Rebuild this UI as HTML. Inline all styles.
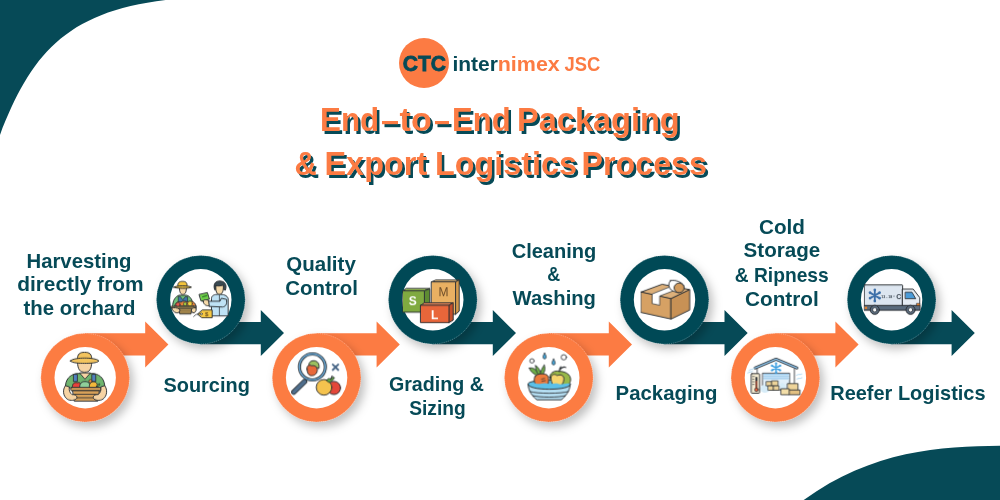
<!DOCTYPE html>
<html><head><meta charset="utf-8"><style>
html,body{margin:0;padding:0;background:#fff;}
body{width:1000px;height:500px;overflow:hidden;position:relative;}
svg{position:absolute;left:0;top:0;will-change:transform;}
text{font-family:"Liberation Sans",sans-serif;font-weight:bold;}
.lb text{font-size:20.5px;fill:#064a57;}
.tt text{font-size:32.3px;}
</style></head><body>
<svg width="1000" height="500" viewBox="0 0 1000 500">
<defs>
<filter id="sh" x="-30%" y="-30%" width="160%" height="160%">
<feDropShadow dx="4" dy="5" stdDeviation="5" flood-color="#000" flood-opacity="0.25"/>
</filter>
</defs>
<path d="M0 0 H165.6 C64.1 12 30.2 56.8 0 135.1 Z" fill="#064a57"/>
<path d="M803.7 500 C872.4 449.9 941.3 446.3 1000 445.7 V500 Z" fill="#064a57"/>
<circle cx="424" cy="63" r="25" fill="#fc7b43"/>
<g fill="#064a57" stroke="#064a57" stroke-width="0.8" style="font-size:21.5px"><text x="402.80" y="71.2" textLength="43.22" lengthAdjust="spacingAndGlyphs">CTC</text></g>
<g style="font-size:20.5px"><g fill="#064a57"><text x="452.48" y="71.4" textLength="45.50" lengthAdjust="spacingAndGlyphs">inter</text></g><g fill="#fc7b43"><text x="497.75" y="71.4" textLength="62.02" lengthAdjust="spacingAndGlyphs">nimex</text><text x="564.40" y="71.4" textLength="35.82" lengthAdjust="spacingAndGlyphs">JSC</text></g></g>
<g class="tt">
<g fill="#064a57" transform="translate(2.5,3)"><text x="320.06" y="130.7" textLength="59.11" lengthAdjust="spacingAndGlyphs">End</text><text x="399.50" y="130.7" textLength="32.27" lengthAdjust="spacingAndGlyphs">to</text><text x="452.08" y="130.7" textLength="58.58" lengthAdjust="spacingAndGlyphs">End</text><text x="516.99" y="130.7" textLength="162.76" lengthAdjust="spacingAndGlyphs">Packaging</text><text x="294.55" y="175" textLength="22.26" lengthAdjust="spacingAndGlyphs">&amp;</text><text x="324.49" y="175" textLength="102.76" lengthAdjust="spacingAndGlyphs">Export</text><text x="435.00" y="175" textLength="141.97" lengthAdjust="spacingAndGlyphs">Logistics</text><text x="581.50" y="175" textLength="125.46" lengthAdjust="spacingAndGlyphs">Process</text><rect x="382" y="121" width="16" height="3.2"/><rect x="435" y="121" width="14" height="3.2"/></g>
<g fill="#fc7b43"><text x="320.06" y="130.7" textLength="59.11" lengthAdjust="spacingAndGlyphs">End</text><text x="399.50" y="130.7" textLength="32.27" lengthAdjust="spacingAndGlyphs">to</text><text x="452.08" y="130.7" textLength="58.58" lengthAdjust="spacingAndGlyphs">End</text><text x="516.99" y="130.7" textLength="162.76" lengthAdjust="spacingAndGlyphs">Packaging</text><text x="294.55" y="175" textLength="22.26" lengthAdjust="spacingAndGlyphs">&amp;</text><text x="324.49" y="175" textLength="102.76" lengthAdjust="spacingAndGlyphs">Export</text><text x="435.00" y="175" textLength="141.97" lengthAdjust="spacingAndGlyphs">Logistics</text><text x="581.50" y="175" textLength="125.46" lengthAdjust="spacingAndGlyphs">Process</text><rect x="382" y="121" width="16" height="3.2"/><rect x="435" y="121" width="14" height="3.2"/></g>
</g>
<path d="M85.2 333.3 H145.2 V321.4 L168.4 344.4 L145.2 367.4 V355.6 H85.2 Z" fill="#fc7b43"/>
<circle cx="85.2" cy="377.7" r="44.4" fill="#fc7b43" filter="url(#sh)"/><circle cx="85.2" cy="377.7" r="44.199999999999996" fill="none" stroke="#fff" stroke-opacity="0.5" stroke-width="0.6" stroke-dasharray="1.2 1"/><circle cx="85.2" cy="377.7" r="30.7" fill="#fff"/>
<path d="M316.6 333.3 H376.6 V321.4 L399.8 344.4 L376.6 367.4 V355.6 H316.6 Z" fill="#fc7b43"/>
<circle cx="316.6" cy="377.7" r="44.4" fill="#fc7b43" filter="url(#sh)"/><circle cx="316.6" cy="377.7" r="44.199999999999996" fill="none" stroke="#fff" stroke-opacity="0.5" stroke-width="0.6" stroke-dasharray="1.2 1"/><circle cx="316.6" cy="377.7" r="30.7" fill="#fff"/>
<path d="M548.8 333.3 H608.8 V321.4 L632.0 344.4 L608.8 367.4 V355.6 H548.8 Z" fill="#fc7b43"/>
<circle cx="548.8" cy="377.7" r="44.4" fill="#fc7b43" filter="url(#sh)"/><circle cx="548.8" cy="377.7" r="44.199999999999996" fill="none" stroke="#fff" stroke-opacity="0.5" stroke-width="0.6" stroke-dasharray="1.2 1"/><circle cx="548.8" cy="377.7" r="30.7" fill="#fff"/>
<path d="M775.4 333.3 H835.4 V321.4 L858.6 344.4 L835.4 367.4 V355.6 H775.4 Z" fill="#fc7b43"/>
<circle cx="775.4" cy="377.7" r="44.4" fill="#fc7b43" filter="url(#sh)"/><circle cx="775.4" cy="377.7" r="44.199999999999996" fill="none" stroke="#fff" stroke-opacity="0.5" stroke-width="0.6" stroke-dasharray="1.2 1"/><circle cx="775.4" cy="377.7" r="30.7" fill="#fff"/>
<path d="M200.8 321.9 H260.8 V310.1 L284.0 333.1 L260.8 356.1 V344.2 H200.8 Z" fill="#064a57"/>
<circle cx="200.8" cy="299.8" r="44.4" fill="#064a57" filter="url(#sh)"/><circle cx="200.8" cy="299.8" r="44.199999999999996" fill="none" stroke="#fff" stroke-opacity="0.5" stroke-width="0.6" stroke-dasharray="1.2 1"/><circle cx="200.8" cy="299.8" r="30.7" fill="#fff"/>
<path d="M432.8 321.9 H492.8 V310.1 L516.0 333.1 L492.8 356.1 V344.2 H432.8 Z" fill="#064a57"/>
<circle cx="432.8" cy="299.8" r="44.4" fill="#064a57" filter="url(#sh)"/><circle cx="432.8" cy="299.8" r="44.199999999999996" fill="none" stroke="#fff" stroke-opacity="0.5" stroke-width="0.6" stroke-dasharray="1.2 1"/><circle cx="432.8" cy="299.8" r="30.7" fill="#fff"/>
<path d="M664.5 321.9 H724.5 V310.1 L747.7 333.1 L724.5 356.1 V344.2 H664.5 Z" fill="#064a57"/>
<circle cx="664.5" cy="299.8" r="44.4" fill="#064a57" filter="url(#sh)"/><circle cx="664.5" cy="299.8" r="44.199999999999996" fill="none" stroke="#fff" stroke-opacity="0.5" stroke-width="0.6" stroke-dasharray="1.2 1"/><circle cx="664.5" cy="299.8" r="30.7" fill="#fff"/>
<path d="M891.6 321.9 H951.6 V310.1 L974.8 333.1 L951.6 356.1 V344.2 H891.6 Z" fill="#064a57"/>
<circle cx="891.6" cy="299.8" r="44.4" fill="#064a57" filter="url(#sh)"/><circle cx="891.6" cy="299.8" r="44.199999999999996" fill="none" stroke="#fff" stroke-opacity="0.5" stroke-width="0.6" stroke-dasharray="1.2 1"/><circle cx="891.6" cy="299.8" r="30.7" fill="#fff"/>
<g stroke="#2b2f33" stroke-width="8" stroke-linejoin="round" stroke-linecap="round">
<!-- 1 farmer -->
<svg x="55.2" y="347.7" width="60" height="60" viewBox="0 0 500 500" overflow="visible">
 <path d="M84 330 C86 262 120 228 175 215 L325 215 C380 228 412 262 414 330 Z" fill="#6fb46e"/>
 <rect x="155" y="222" width="30" height="60" fill="#4f7fc0" stroke-width="7"/>
 <rect x="308" y="222" width="30" height="60" fill="#4f7fc0" stroke-width="7"/>
 <path d="M205 212 L248 262 L292 212 Z" fill="#f6d3a3" stroke-width="7"/>
 <path d="M186 118 C186 182 208 204 246 204 C284 204 304 182 304 118 Z" fill="#f6d3a3"/>
 <path d="M186 94 C184 52 205 38 245 38 C285 38 306 52 304 94 Z" fill="#f3c45e"/>
 <path d="M126 110 C140 92 200 86 245 86 C290 86 350 92 364 110 C350 128 290 130 245 130 C200 130 140 128 126 110 Z" fill="#f3c45e"/>
 <circle cx="294" cy="279" r="14" fill="#f08a3a" stroke-width="6"/>
 <path d="M145 331 C138 300 160 286 185 292 C210 284 222 305 214 331 Z" fill="#e8413a"/>
 <path d="M205 334 C198 300 222 280 248 282 C278 280 296 300 290 334 Z" fill="#8fcf9a"/>
 <path d="M285 331 C280 300 298 283 320 284 C345 284 356 302 350 331 Z" fill="#f3b83a"/>
 <path d="M345 322 C350 305 365 298 372 300 C372 315 360 325 345 322 Z" fill="#6cb04a" stroke-width="6"/>
 <rect x="130" y="331" width="252" height="27" rx="8" fill="#d9a25a"/>
 <path d="M148 358 H368 L355 445 H162 Z" fill="#d9a25a"/>
 <path d="M152 388 H364 M157 417 H360" fill="none" stroke-width="7"/>
 <path d="M84 318 C62 345 62 400 100 428 C125 445 170 440 180 420 C186 400 165 388 140 390 C120 375 112 350 118 330 Z" fill="#f6d3a3"/>
 <path d="M414 318 C436 345 436 400 398 428 C373 445 328 440 318 420 C312 400 333 388 358 390 C378 375 386 350 380 330 Z" fill="#f6d3a3"/>
</svg>
<!-- 2 sourcing -->
<svg x="170.8" y="269.8" width="60" height="60" viewBox="0 0 500 500" overflow="visible">
 <path d="M15 310 C15 250 40 222 70 212 L130 212 C165 222 182 250 190 310 Z" fill="#6fc27a"/>
 <path d="M62 225 V275 H140 V225 L120 225 L100 250 L80 225 Z" fill="#3f76a8" stroke-width="6"/>
 <path d="M72 150 C72 190 85 206 100 206 C118 206 130 190 130 150 Z" fill="#f6d9a8"/>
 <path d="M58 132 C58 105 72 97 98 97 C124 97 136 105 136 132 Z" fill="#f3c43a"/>
 <path d="M25 145 C40 130 150 130 172 145 C160 158 40 158 25 145 Z" fill="#f3c43a"/>
 <path d="M33 300 C40 270 60 262 85 270 C100 255 125 262 140 268 C165 255 200 262 210 300 Z" fill="#e8843a"/>
 <circle cx="60" cy="290" r="18" fill="#e85a4a" stroke-width="5"/>
 <circle cx="160" cy="282" r="20" fill="#f3d03a" stroke-width="5"/>
 <circle cx="120" cy="285" r="15" fill="#a8d040" stroke-width="5"/>
 <path d="M0 305 H213 L205 322 H8 Z" fill="#e3b45a"/>
 <path d="M70 322 H175 L168 368 H78 Z" fill="#e3b45a"/>
 <path d="M75 338 H172 M76 354 H170" fill="none" stroke-width="6"/>
 <path d="M8 318 C20 312 55 315 75 330 C80 350 65 362 45 358 C25 352 12 340 8 318 Z" fill="#f6d9a8"/>
 <path d="M210 318 C200 312 180 318 172 330 C170 350 180 362 195 358 C210 350 215 335 210 318 Z" fill="#f6d9a8"/>
 <path d="M339 381 V240 C339 215 360 205 400 204 C440 205 470 212 478 240 V381 Z" fill="#bfe2f5"/>
 <path d="M405 215 V381" fill="none" stroke-width="6"/>
 <path d="M365 165 C350 120 372 92 410 94 C450 96 470 122 455 170 L440 165 C436 140 420 132 395 138 C385 142 378 150 376 165 Z" fill="#3a4a52"/>
 <path d="M376 132 C400 140 425 130 438 128 C440 180 430 204 405 204 C385 204 372 185 376 132 Z" fill="#f6d9a8"/>
 <path d="M465 250 C470 290 455 308 430 310 L318 305 L312 262 L410 262 L420 240 Z" fill="#bfe2f5"/>
 <path d="M238 205 L305 190 L322 245 L255 260 Z" fill="#6fcf4a"/>
 <path d="M265 225 L300 215" fill="none" stroke="#2f7a2a" stroke-width="10"/>
 <path d="M270 265 C265 250 290 245 315 255 L320 300 C300 302 275 295 270 265 Z" fill="#f6d9a8"/>
 <path d="M225 368 L262 335 H345 V400 H262 Z" fill="#f6c842"/>
 <circle cx="255" cy="368" r="8" fill="#fff" stroke-width="5"/>
 <text x="300" y="390" font-family="Liberation Sans" font-size="52" fill="#6b5020" stroke="none" text-anchor="middle">$</text>
 <path d="M190 390 C205 368 225 368 248 368" fill="none" stroke-width="6"/>
</svg>
<!-- 3 quality -->
<svg x="286.6" y="347.7" width="60" height="60" viewBox="0 0 500 500" overflow="visible">
 <path d="M150 282 L60 370" stroke="#2b2f33" stroke-width="44"/>
 <path d="M150 282 L60 370" stroke="#4f6e8c" stroke-width="30"/>
 <circle cx="215" cy="160" r="108" fill="#fff" stroke="#2b2f33" stroke-width="26"/>
 <circle cx="215" cy="160" r="108" fill="none" stroke="#6aaad8" stroke-width="12"/>
 <path d="M185 140 C190 110 215 105 240 110 C265 118 275 140 270 170 Z" fill="#9cc060"/>
 <path d="M170 180 C165 150 185 140 210 150 C235 145 262 160 255 195 C248 225 225 235 200 232 C180 228 172 205 170 180 Z" fill="#e8683a"/>
 <path d="M385 140 L430 185 M430 140 L385 185" stroke="#4a6888" stroke-width="16"/>
 <circle cx="395" cy="335" r="55" fill="#e4473a"/>
 <circle cx="312" cy="330" r="65" fill="#f5c34e"/>
 <path d="M335 272 C345 250 360 255 368 265 C372 248 390 240 398 248 C395 262 385 275 370 282 C360 292 340 290 335 272 Z" fill="#5fa83e" stroke-width="7"/>
 <path d="M368 262 L380 235" fill="none" stroke-width="9"/>
</svg>
<!-- 4 boxes -->
<svg x="402.8" y="269.8" width="60" height="60" viewBox="0 0 500 500" overflow="visible">
 <path d="M240 100 L275 85 H470 L440 100 Z" fill="#f0c27a"/>
 <path d="M440 100 L470 85 V345 L440 370 Z" fill="#d39a4c"/>
 <rect x="240" y="100" width="200" height="270" fill="#e9b062"/>
 <path d="M0 175 L30 155 H225 L180 175 Z" fill="#94bc4e"/>
 <path d="M180 175 L225 158 V330 L180 352 Z" fill="#5e8b32"/>
 <rect x="0" y="175" width="180" height="178" fill="#80aa40"/>
 <path d="M150 295 L180 275 H420 L385 295 Z" fill="#f08a5a"/>
 <path d="M385 295 L420 275 V420 L385 440 Z" fill="#c54e2a"/>
 <rect x="150" y="295" width="235" height="145" fill="#e8663a"/>
 <text x="340" y="222" font-family="Liberation Sans" font-weight="normal" font-size="100" fill="#6a4a28" stroke="none" text-anchor="middle" style="font-weight:normal">M</text>
 <text x="82" y="298" font-family="Liberation Sans" font-weight="bold" font-size="100" fill="#fff" stroke="none" text-anchor="middle">S</text>
 <text x="265" y="408" font-family="Liberation Sans" font-weight="bold" font-size="100" fill="#fff" stroke="none" text-anchor="middle">L</text>
</svg>
<!-- 5 cleaning -->
<svg x="518.8" y="347.7" width="60" height="60" viewBox="0 0 500 500" overflow="visible">
 <ellipse cx="253" cy="303" rx="176" ry="34" fill="#5cc0e8"/>
 <path d="M88 170 C120 160 150 185 168 225 L150 232 C120 215 95 200 88 170 Z" fill="#6cac48" stroke-width="7"/>
 <path d="M140 150 C165 160 182 195 185 228 L165 232 C150 205 138 180 140 150 Z" fill="#6cac48" stroke-width="7"/>
 <path d="M212 145 C225 175 215 210 192 235 L178 228 C182 195 195 165 212 145 Z" fill="#6cac48" stroke-width="7"/>
 <path d="M135 240 C150 215 200 212 232 225 C258 240 250 300 235 322 C210 338 160 330 140 305 C125 285 125 260 135 240 Z" fill="#ec7a3c"/>
 <path d="M190 262 L215 256 M192 280 L222 274" fill="none" stroke-width="6"/>
 <path d="M258 245 C262 210 290 190 335 195 C390 200 430 220 432 265 C430 300 410 318 380 318 C330 310 262 290 258 245 Z" fill="#98b848"/>
 <path d="M268 245 C272 222 298 215 320 232 C345 220 378 228 376 262 C374 300 348 328 315 335 C288 325 266 292 268 245 Z" fill="#f5d46e"/>
 <path d="M338 200 C336 185 340 170 350 158 M342 185 C356 165 378 158 392 165" fill="none" stroke-width="9"/>
 <path d="M82 300 C100 290 130 292 150 300 C175 310 205 285 240 300 C270 312 300 290 330 302 C360 312 390 290 424 300 L428 312 C400 345 320 345 253 345 C180 345 100 340 80 312 Z" fill="#5cc0e8" stroke="none"/>
 <path d="M77 305 C80 330 150 346 253 346 C356 346 426 330 429 305 C425 360 390 405 355 434 H150 C112 405 80 360 77 305 Z" fill="#b5def2"/>
 <path d="M92 365 C150 385 356 385 414 365 M118 400 C170 416 336 416 388 400" fill="none" stroke-width="7"/>
 <path d="M215 45 C200 70 195 85 215 95 C235 85 230 70 215 45 Z" fill="#45a8dc" stroke-width="7"/>
 <path d="M290 95 C275 120 270 135 290 145 C310 135 305 120 290 95 Z" fill="#45a8dc" stroke-width="7"/>
 <circle cx="110" cy="110" r="18" fill="#fff" stroke-width="7"/>
 <circle cx="375" cy="80" r="22" fill="#fff" stroke-width="7"/>
</svg>
<!-- 6 packaging -->
<svg x="634.5" y="269.8" width="60" height="60" viewBox="0 0 500 500" overflow="visible">
 <path d="M55 185 L230 120 L460 165 L305 240 Z" fill="#ddb07a"/>
 <path d="M55 185 L305 240 V410 L55 355 Z" fill="#d6a164"/>
 <path d="M305 240 L460 165 V335 L305 410 Z" fill="#c89155"/>
 <path d="M150 200 L300 140 L350 165 L210 218 V295 L150 282 Z" fill="#fff" stroke-width="6"/>
 <path d="M300 90 C340 80 390 100 410 130 C420 160 395 190 360 190 L330 180 C290 170 270 120 300 90 Z" fill="#fff"/>
 <ellipse cx="372" cy="150" rx="42" ry="40" fill="#d19a5c"/>
</svg>
<!-- 7 cold -->
<svg x="745.4" y="347.7" width="60" height="60" viewBox="0 0 500 500" overflow="visible">
 <path d="M82 169 L255 96 L428 169" fill="none" stroke="#2b2f33" stroke-width="24"/>
 <path d="M82 169 L255 96 L428 169" fill="none" stroke="#8cc4ec" stroke-width="11"/>
 <path d="M98 176 V230 M408 176 V370" fill="none" stroke-width="7"/>
 <rect x="145" y="212" width="223" height="140" fill="#e2f0fa" stroke-width="7"/>
 <rect x="150" y="216" width="213" height="50" fill="#9fcdee" stroke="none"/>
 <path d="M150 232 H363 M150 249 H363 M150 266 H363" fill="none" stroke="#dff0fb" stroke-width="6"/>
 <g stroke="#3b9ee0" stroke-width="13" fill="none"><path d="M255 130 V208 M221 150 L289 188 M221 188 L289 150"/></g>
 <g fill="#3b9ee0" stroke="none"><circle cx="255" cy="130" r="9"/><circle cx="255" cy="208" r="9"/><circle cx="221" cy="150" r="9"/><circle cx="289" cy="188" r="9"/><circle cx="221" cy="188" r="9"/><circle cx="289" cy="150" r="9"/></g>
 <path d="M130 325 C150 300 180 315 195 335 C215 350 200 375 160 375 C130 372 120 350 130 325 Z" fill="#d6ecf8" stroke="none"/>
 <path d="M290 300 C310 285 330 300 335 320 C340 345 310 355 295 340 Z" fill="#d6ecf8" stroke="none"/>
 <rect x="175" y="282" width="45" height="36" fill="#edd49a" stroke-width="6"/>
 <rect x="220" y="276" width="52" height="42" fill="#edd49a" stroke-width="6"/>
 <rect x="190" y="318" width="45" height="36" fill="#edd49a" stroke-width="6"/>
 <rect x="235" y="318" width="45" height="36" fill="#edd49a" stroke-width="6"/>
 <rect x="352" y="299" width="86" height="60" fill="#efd49a" stroke-width="7"/>
 <rect x="365" y="352" width="90" height="40" fill="#e3c182" stroke-width="7"/>
 <rect x="298" y="342" width="67" height="50" fill="#f3dea8" stroke-width="7"/>
 <path d="M30 190 C45 175 60 185 75 170 M20 210 C35 200 50 205 60 195" fill="none" stroke="#9fd0ee" stroke-width="7"/>
 <path d="M425 230 C440 215 455 230 470 220 M430 260 C445 250 460 262 472 250" fill="none" stroke="#9fd0ee" stroke-width="7"/>
 <rect x="48" y="216" width="70" height="163" rx="6" fill="#f5ecd2"/>
 <path d="M60 240 H75 M60 262 H72 M60 284 H75 M60 306 H72" fill="none" stroke-width="5"/>
 <path d="M92 250 V345" stroke="#2b2f33" stroke-width="16"/>
 <path d="M92 280 V345" stroke="#e8603a" stroke-width="8"/>
 <circle cx="92" cy="350" r="15" fill="#e8603a" stroke-width="6"/>
</svg>
<!-- 8 truck -->
<svg x="861.6" y="269.8" width="60" height="60" viewBox="0 0 500 500" overflow="visible">
 <rect x="22" y="126" width="320" height="176" rx="5" fill="#dde6f0"/>
 <path d="M342 161 H430 L485 233 V302 H342 Z" fill="#e6edf4"/>
 <path d="M366 187 H420 L451 241 H366 Z" fill="#4a9bd8" stroke-width="7"/>
 <rect x="22" y="297" width="466" height="40" fill="#5a6b7d"/>
 <rect x="26" y="308" width="20" height="18" fill="#e8822a" stroke="none"/>
 <rect x="460" y="280" width="26" height="18" fill="#e8822a" stroke-width="5"/>
 <circle cx="110" cy="334" r="38" fill="#5a6b7d"/>
 <circle cx="110" cy="334" r="18" fill="#f4f7fa" stroke-width="6"/>
 <circle cx="408" cy="334" r="38" fill="#5a6b7d"/>
 <circle cx="408" cy="334" r="18" fill="#f4f7fa" stroke-width="6"/>
 <g stroke="#3a6ea8" stroke-width="15" fill="none"><path d="M110 168 V260 M70 191 L150 237 M70 237 L150 191"/></g>
 <g fill="#3a6ea8" stroke="none"><circle cx="110" cy="168" r="11"/><circle cx="110" cy="260" r="11"/><circle cx="70" cy="191" r="11"/><circle cx="150" cy="237" r="11"/><circle cx="70" cy="237" r="11"/><circle cx="150" cy="191" r="11"/></g>
 <text x="163" y="232" font-family="Liberation Sans" font-weight="bold" font-size="30" fill="#3a4550" stroke="none">13 - 18 °</text>
 <text x="288" y="242" font-family="Liberation Sans" font-size="58" fill="#3a4550" stroke="none">C</text>
</svg>
</g>

<g class="lb"><text x="26.51" y="267.9" textLength="105.01" lengthAdjust="spacingAndGlyphs">Harvesting</text><text x="17.20" y="291.3" textLength="126.45" lengthAdjust="spacingAndGlyphs">directly from</text><text x="23.50" y="314.7" textLength="112.02" lengthAdjust="spacingAndGlyphs">the orchard</text><text x="163.50" y="392" textLength="86.31" lengthAdjust="spacingAndGlyphs">Sourcing</text><text x="286.30" y="270.8" textLength="69.50" lengthAdjust="spacingAndGlyphs">Quality</text><text x="285.20" y="294.6" textLength="72.79" lengthAdjust="spacingAndGlyphs">Control</text><text x="388.90" y="391.1" textLength="95.01" lengthAdjust="spacingAndGlyphs">Grading &amp;</text><text x="409.20" y="414.9" textLength="56.49" lengthAdjust="spacingAndGlyphs">Sizing</text><text x="511.70" y="257.9" textLength="84.61" lengthAdjust="spacingAndGlyphs">Cleaning</text><text x="547.20" y="281.3" textLength="12.93" lengthAdjust="spacingAndGlyphs">&amp;</text><text x="512.60" y="305.2" textLength="83.31" lengthAdjust="spacingAndGlyphs">Washing</text><text x="615.61" y="399.6" textLength="101.91" lengthAdjust="spacingAndGlyphs">Packaging</text><text x="759.00" y="233.5" textLength="45.93" lengthAdjust="spacingAndGlyphs">Cold</text><text x="743.60" y="257.3" textLength="76.60" lengthAdjust="spacingAndGlyphs">Storage</text><text x="734.80" y="281.5" textLength="93.88" lengthAdjust="spacingAndGlyphs">&amp; Ripness</text><text x="745.00" y="305.7" textLength="73.70" lengthAdjust="spacingAndGlyphs">Control</text><text x="830.23" y="399.7" textLength="155.36" lengthAdjust="spacingAndGlyphs">Reefer Logistics</text></g>
</svg>
</body></html>
